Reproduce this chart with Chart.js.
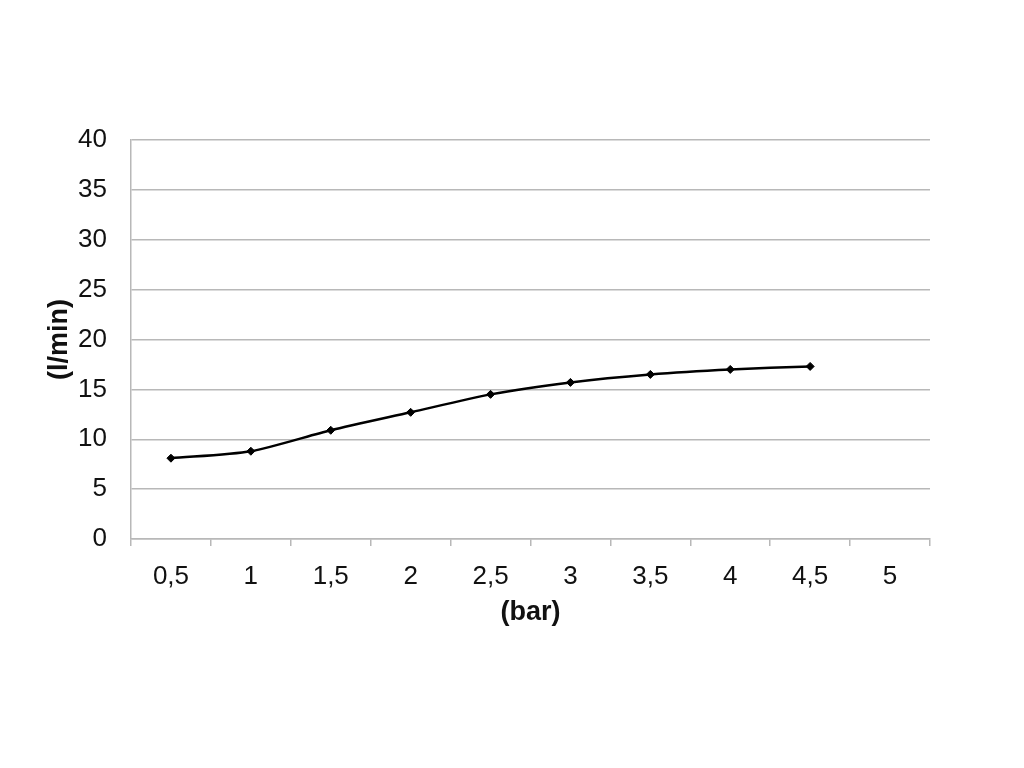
<!DOCTYPE html>
<html>
<head>
<meta charset="utf-8">
<script src="https://cdn.jsdelivr.net/npm/chart.js@4"></script>
<style>
  html, body { margin: 0; padding: 0; background: #fff; }
  #wrap { width: 1024px; height: 768px; }
</style>
</head>
<body>
<div id="wrap"><canvas id="chart" width="1024" height="768"></canvas></div>
<script>
// ── Data ─────────────────────────────────────────────────────────
const pressureLabels = ['0,5', '1', '1,5', '2', '2,5', '3', '3,5', '4', '4,5', '5'];
const flowValues = [8.1, 8.8, 10.9, 12.7, 14.5, 15.7, 16.5, 17.0, 17.3, null];
const yMin = 0, yMax = 40, yStep = 5;

const GRID = '#b8b8b8';
const FONT = "'Liberation Sans', Arial, Helvetica, sans-serif";

Chart.defaults.font.family = FONT;
Chart.defaults.color = '#111';

new Chart(document.getElementById('chart').getContext('2d'), {
  type: 'line',
  data: {
    labels: pressureLabels,
    datasets: [{
      label: '(l/min)',
      data: flowValues,
      borderColor: '#000',
      backgroundColor: '#000',
      borderWidth: 2.5,
      pointStyle: 'rectRot',
      pointRadius: 4,
      pointBorderWidth: 1,
      tension: 0.25,
      fill: false,
    }]
  },
  options: {
    responsive: false,
    animation: false,
    layout: { padding: { left: 43, right: 94, top: 140, bottom: 139 } },
    plugins: { legend: { display: false }, tooltip: { enabled: false } },
    scales: {
      x: {
        type: 'category',
        offset: true,
        grid: {
          offset: true,
          drawOnChartArea: true,
          // only the closing border on the right of the plot area
          color: (ctx) => ctx.index === pressureLabels.length ? GRID : 'rgba(0,0,0,0)',
          tickColor: GRID,
          tickLength: 7,
          lineWidth: 1.5,
        },
        border: { color: GRID, width: 1.5 },
        ticks: { font: { size: 26 }, color: '#111', padding: 15, maxRotation: 0 },
        title: { display: true, text: '(bar)', font: { size: 27, weight: 'bold' }, color: '#111', padding: { top: 0, bottom: 0 } },
        afterFit: (scale) => { scale.height = 90; },
      },
      y: {
        min: yMin,
        max: yMax,
        grid: { color: GRID, drawTicks: false, lineWidth: 1.5 },
        border: { color: GRID, width: 1.5 },
        ticks: { stepSize: yStep, font: { size: 26 }, color: '#111', padding: 24 },
        title: { display: true, text: '(l/min)', font: { size: 27, weight: 'bold' }, color: '#111', padding: 0 },
        afterFit: (scale) => { scale.width = 88; },
      },
    },
  },
});
</script>
</body>
</html>
